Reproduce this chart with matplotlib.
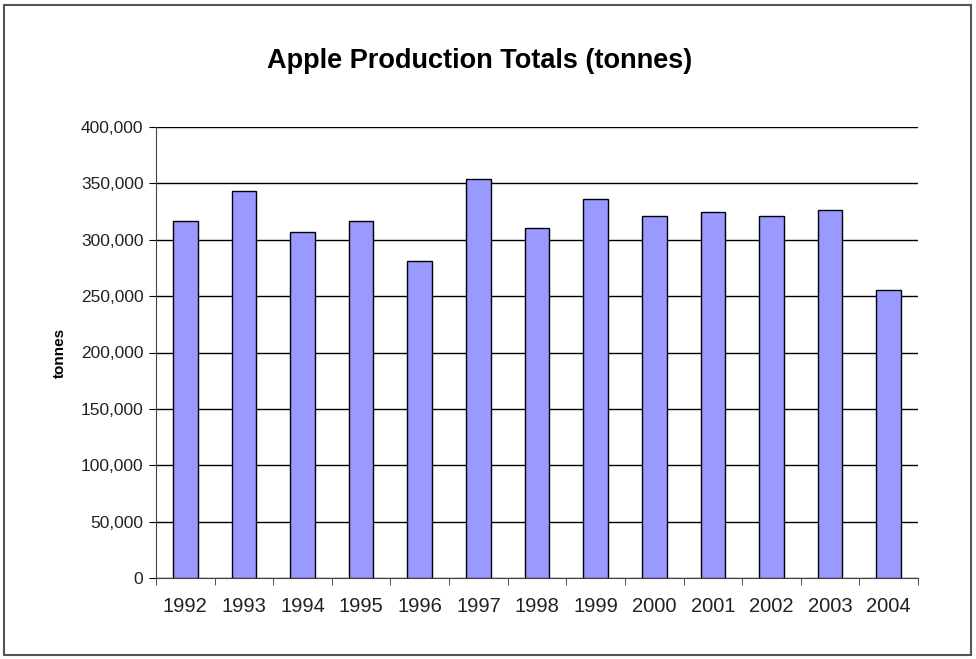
import matplotlib.pyplot as plt
from matplotlib.patches import Rectangle
from matplotlib.ticker import FuncFormatter, FixedLocator

plt.rcParams['font.family'] = ['Liberation Sans', 'DejaVu Sans']

# Datos
years = ['1992', '1993', '1994', '1995', '1996', '1997', '1998',
         '1999', '2000', '2001', '2002', '2003', '2004']
tonnes = [317000, 343500, 307000, 317000, 281000, 353500, 310000,
          336000, 321000, 324500, 321000, 326500, 255000]

fig = plt.figure(figsize=(9.76, 6.59), dpi=100)
ax = fig.add_axes([156 / 976, 1 - 578 / 659, 762 / 976, 451 / 659])

# marco exterior
fig.patches.append(Rectangle((4 / 976, 4 / 659), 967 / 976, 650 / 659,
                             transform=fig.transFigure, fill=False,
                             edgecolor='#555555', linewidth=1.5))

x = range(len(years))
ax.bar(x, tonnes, width=0.42, color='#9999ff', edgecolor='black',
       linewidth=1.0, zorder=3)

ax.set_xlim(-0.5, len(years) - 0.5)
ax.set_ylim(0, 400000)
ax.set_yticks(range(0, 400001, 50000))
ax.yaxis.set_major_formatter(FuncFormatter(lambda v, p: f'{int(v):,}'))
ax.grid(axis='y', color='black', linewidth=1.0, zorder=0)

# marcas del eje x entre categorias
ax.set_xticks(list(x))
ax.set_xticklabels(years, fontsize=14.5, color='#222222')
ax.xaxis.set_minor_locator(FixedLocator([i - 0.5 for i in range(len(years) + 1)]))
ax.tick_params(axis='x', which='major', length=0, pad=14)
ax.tick_params(axis='x', which='minor', length=5, direction='out', color='#333333')
ax.tick_params(axis='y', length=5, direction='out', labelsize=12.5,
               labelcolor='#222222', pad=4)

for side in ['top', 'right']:
    ax.spines[side].set_visible(False)
ax.spines['left'].set_color('#444444')
ax.spines['bottom'].set_color('#444444')

ax.set_ylabel('tonnes', fontsize=11, fontweight='bold', labelpad=10)
fig.text(480 / 976, 1 - 61 / 659, 'Apple Production Totals (tonnes)',
         fontsize=19.5, fontweight='bold', ha='center', va='center')

plt.savefig('out.png', dpi=100)
